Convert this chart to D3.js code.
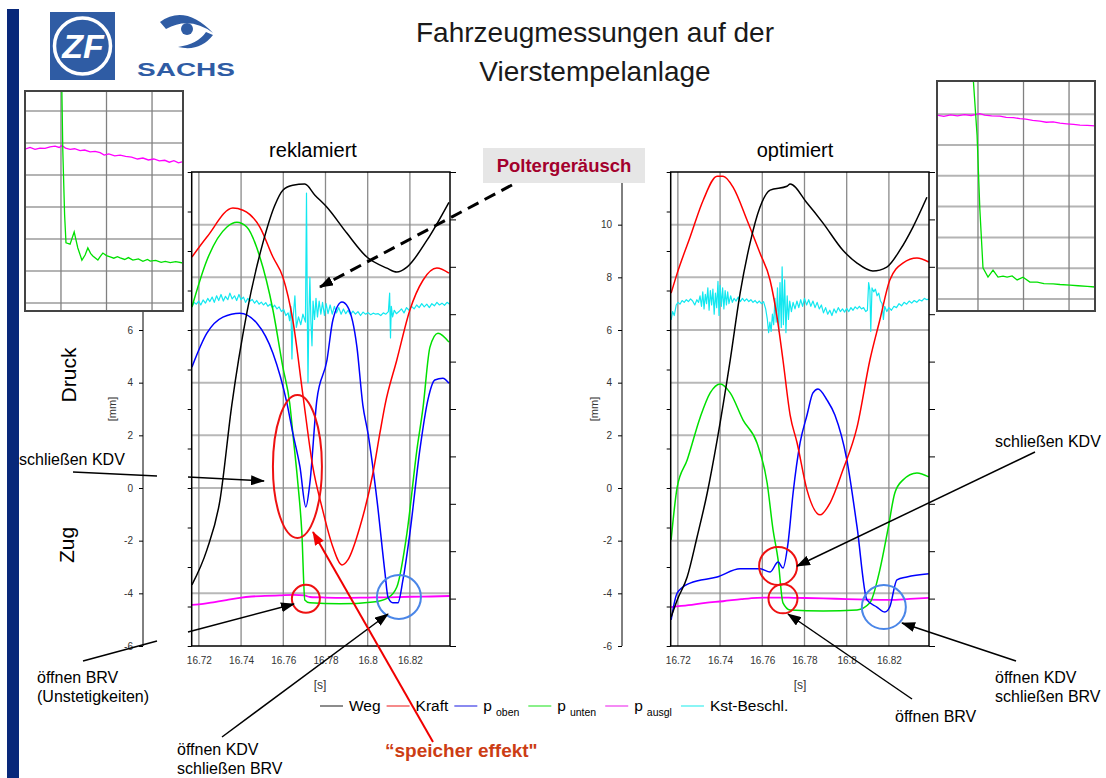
<!DOCTYPE html>
<html>
<head>
<meta charset="utf-8">
<script src="https://cdn.jsdelivr.net/npm/d3@7"></script>
<style>
  body { margin: 0; background: #fff; }
  svg { display: block; }
  text { font-family: "Liberation Sans", Arial, sans-serif; }
</style>
</head>
<body>
<div id="slide"></div>
<script>
// ---- data ----
var titleLines = ["Fahrzeugmessungen auf der", "Vierstempelanlage"];
var panelTitles = ["reklamiert", "optimiert"];
var timeTicks = [16.72, 16.74, 16.76, 16.78, 16.8, 16.82];
var timeLabels = ["16.72", "16.74", "16.76", "16.78", "16.8", "16.82"];
var mmTicks = [-6, -4, -2, 0, 2, 4, 6, 8, 10];
var gridMm = [-4, -2, 0, 2, 4, 6, 8, 10];
var legendNames = ["Weg", "Kraft", "p", "p", "p", "Kst-Beschl."];
var legendSubs = ["", "", "oben", "unten", "ausgl", ""];

// "reklamiert" panel  [time s, value]
var rekWeg = [[16.7167,-3.68],[16.7238,-2.35],[16.7300,-0.46],[16.7356,3.15],[16.7427,6.64],[16.7503,9.30],
  [16.7560,10.74],[16.7598,11.31],[16.7645,11.50],[16.7702,11.54],[16.7750,11.12],[16.7807,10.66],[16.7901,9.68],
  [16.7996,8.77],[16.8091,8.35],[16.8138,8.20],[16.8186,8.39],[16.8281,9.41],[16.8385,10.85]];
var rekKraft = [[16.7167,8.77],[16.7238,9.53],[16.7361,10.63],[16.7409,10.55],[16.7489,9.91],[16.7551,8.77],
  [16.7598,8.01],[16.7645,6.38],[16.7693,3.53],[16.7740,0.80],[16.7783,-0.72],[16.7835,-2.24],[16.7878,-2.92],
  [16.7906,-2.73],[16.7963,-1.48],[16.8025,0.57],[16.8058,2.09],[16.8082,3.15],[16.8138,4.86],[16.8200,6.76],
  [16.8262,7.89],[16.8328,8.35],[16.8385,8.16]];
var rekOben = [[16.7167,4.59],[16.7238,5.88],[16.7314,6.49],[16.7394,6.64],[16.7475,6.26],[16.7551,5.12],
  [16.7617,3.23],[16.7645,2.09],[16.7679,0.80],[16.7707,-0.72],[16.7726,0.19],[16.7759,3.34],[16.7807,4.86],
  [16.7835,6.38],[16.7878,7.06],[16.7906,6.87],[16.7949,5.35],[16.7977,3.15],[16.8001,2.09],[16.8044,-0.46],
  [16.8082,-3.23],[16.8096,-4.14],[16.8119,-4.36],[16.8143,-4.36],[16.8167,-3.49],[16.8200,-1.71],[16.8247,1.44],
  [16.8285,3.34],[16.8318,4.10],[16.8356,4.17],[16.8385,3.98]];
var rekUnten = [[16.7167,6.87],[16.7238,8.65],[16.7333,9.91],[16.7380,10.09],[16.7427,9.91],[16.7489,8.77],
  [16.7551,6.76],[16.7598,4.59],[16.7631,3.19],[16.7645,2.09],[16.7669,0.19],[16.7688,-1.71],[16.7702,-4.25],
  [16.7726,-4.36],[16.7868,-4.40],[16.8025,-4.33],[16.8096,-4.17],[16.8138,-3.76],[16.8186,-1.71],[16.8233,1.44],
  [16.8262,3.04],[16.8295,5.35],[16.8333,5.88],[16.8385,5.54]];
var rekAusgl = [[16.7167,-4.44],[16.7220,-4.40],[16.7275,-4.33],[16.7330,-4.26],[16.7394,-4.17],[16.7450,-4.12],
  [16.7513,-4.10],[16.7584,-4.08],[16.7650,-4.06],[16.7700,-4.08],[16.7726,-4.14],[16.7800,-4.16],[16.7900,-4.17],
  [16.8000,-4.16],[16.8100,-4.15],[16.8200,-4.13],[16.8300,-4.12],[16.8388,-4.10]];
var rekBeschl = [[16.7167,6.87],[16.7178,7.05],[16.7188,6.98],[16.7199,7.10],[16.7209,6.95],[16.7220,7.14],
  [16.7231,7.02],[16.7242,7.20],[16.7252,7.08],[16.7263,7.25],[16.7273,7.05],[16.7284,7.30],[16.7294,7.12],
  [16.7305,7.35],[16.7316,7.10],[16.7326,7.28],[16.7337,7.15],[16.7347,7.40],[16.7358,7.18],[16.7369,7.30],
  [16.7379,7.12],[16.7390,7.35],[16.7400,7.15],[16.7411,7.25],[16.7421,7.05],[16.7432,7.20],[16.7443,7.10],
  [16.7453,7.16],[16.7464,7.02],[16.7474,7.12],[16.7485,6.98],[16.7496,7.06],[16.7506,6.95],[16.7517,7.04],
  [16.7527,6.90],[16.7538,6.98],[16.7549,6.85],[16.7559,6.94],[16.7570,6.80],[16.7580,6.88],[16.7591,6.70],
  [16.7602,6.78],[16.7612,6.55],[16.7623,6.65],[16.7630,6.35],[16.7636,6.90],[16.7641,4.90],[16.7646,6.40],
  [16.7655,7.30],[16.7662,6.10],[16.7672,6.50],[16.7683,6.20],[16.7693,6.60],[16.7705,6.30],[16.7710,11.20],
  [16.7714,6.50],[16.7717,4.00],[16.7721,6.40],[16.7726,8.00],[16.7731,6.30],[16.7736,5.40],[16.7741,7.10],
  [16.7748,6.40],[16.7755,7.20],[16.7762,6.50],[16.7770,7.10],[16.7778,6.60],[16.7786,7.05],[16.7795,6.55],
  [16.7803,7.00],[16.7812,6.62],[16.7822,6.95],[16.7832,6.60],[16.7842,6.90],[16.7852,6.65],[16.7863,6.85],
  [16.7874,6.60],[16.7885,6.80],[16.7896,6.62],[16.7907,6.75],[16.7918,6.58],[16.7930,6.72],[16.7942,6.60],
  [16.7954,6.70],[16.7966,6.55],[16.7978,6.68],[16.7990,6.60],[16.8002,6.66],[16.8014,6.58],[16.8026,6.64],
  [16.8038,6.60],[16.8050,6.62],[16.8062,6.55],[16.8074,6.65],[16.8086,6.60],[16.8098,6.70],[16.8104,7.40],
  [16.8108,5.70],[16.8112,6.90],[16.8118,6.50],[16.8126,6.75],[16.8136,6.62],[16.8148,6.70],[16.8160,6.80],
  [16.8172,6.65],[16.8184,6.85],[16.8196,6.75],[16.8208,6.90],[16.8220,6.80],[16.8232,6.95],[16.8244,6.85],
  [16.8256,7.00],[16.8268,6.88],[16.8280,6.98],[16.8292,6.85],[16.8304,7.00],[16.8316,6.92],[16.8328,7.05],
  [16.8340,6.95],[16.8352,7.02],[16.8364,6.94],[16.8376,7.05],[16.8388,6.98]];

// "optimiert" panel
var optWeg = [[16.7168,-4.90],[16.7197,-4.25],[16.7244,-3.38],[16.7291,-1.86],[16.7339,-0.19],[16.7386,1.82],
  [16.7448,4.86],[16.7495,7.40],[16.7542,9.30],[16.7589,10.66],[16.7637,11.31],[16.7717,11.46],[16.7732,11.54],
  [16.7812,10.82],[16.7888,10.06],[16.7982,9.03],[16.8049,8.54],[16.8124,8.24],[16.8190,8.39],[16.8252,9.03],
  [16.8314,9.91],[16.8380,11.04]];
var optKraft = [[16.7168,7.40],[16.7197,8.16],[16.7258,9.53],[16.7320,10.93],[16.7386,11.84],[16.7414,11.84],
  [16.7462,11.42],[16.7528,10.17],[16.7589,8.92],[16.7637,7.89],[16.7670,6.49],[16.7698,4.86],[16.7732,2.77],
  [16.7765,1.71],[16.7812,-0.08],[16.7874,-1.02],[16.7921,-0.57],[16.7982,0.68],[16.8049,2.31],[16.8110,4.86],
  [16.8157,6.38],[16.8204,7.89],[16.8266,8.54],[16.8333,8.73],[16.8389,8.58]];
var optOben = [[16.7168,-5.01],[16.7197,-3.98],[16.7258,-3.61],[16.7386,-3.38],[16.7495,-3.07],[16.7589,-3.07],
  [16.7637,-3.19],[16.7675,-2.81],[16.7698,-3.04],[16.7722,-2.09],[16.7746,-0.19],[16.7779,1.71],[16.7812,2.77],
  [16.7840,3.61],[16.7864,3.76],[16.7907,3.34],[16.7944,2.77],[16.8001,1.06],[16.8049,-1.48],[16.8096,-4.25],
  [16.8143,-4.52],[16.8181,-4.71],[16.8204,-4.52],[16.8238,-3.49],[16.8285,-3.38],[16.8389,-3.26]];
var optUnten = [[16.7168,-1.97],[16.7197,0.04],[16.7244,1.06],[16.7306,2.69],[16.7353,3.61],[16.7401,3.95],
  [16.7448,3.61],[16.7509,2.58],[16.7575,1.71],[16.7623,0.19],[16.7651,-1.59],[16.7675,-2.73],[16.7698,-4.36],
  [16.7732,-4.63],[16.7888,-4.67],[16.8049,-4.63],[16.8110,-4.36],[16.8157,-3.11],[16.8195,-1.59],[16.8228,-0.19],
  [16.8266,0.30],[16.8333,0.57],[16.8389,0.42]];
var optAusgl = [[16.7168,-4.52],[16.7250,-4.45],[16.7330,-4.36],[16.7414,-4.30],[16.7500,-4.22],[16.7575,-4.17],
  [16.7650,-4.16],[16.7750,-4.17],[16.7888,-4.19],[16.8000,-4.22],[16.8100,-4.24],[16.8204,-4.25],[16.8300,-4.21],
  [16.8389,-4.17]];
var optBeschl = [[16.7168,6.38],[16.7175,6.70],[16.7183,6.55],[16.7192,6.95],[16.7201,7.05],[16.7210,6.98],
  [16.7220,7.12],[16.7230,7.05],[16.7240,7.15],[16.7250,7.08],[16.7260,7.18],[16.7270,7.10],[16.7280,6.95],
  [16.7290,7.15],[16.7298,7.05],[16.7305,7.30],[16.7312,6.90],[16.7318,7.45],[16.7324,6.80],[16.7330,7.35],
  [16.7336,7.00],[16.7342,7.60],[16.7348,6.75],[16.7354,7.50],[16.7360,6.95],[16.7366,7.55],[16.7372,6.60],
  [16.7378,7.40],[16.7384,6.85],[16.7390,7.85],[16.7395,6.55],[16.7400,7.70],[16.7406,6.90],[16.7412,7.60],
  [16.7418,6.80],[16.7424,7.50],[16.7430,6.95],[16.7436,7.45],[16.7442,7.00],[16.7450,7.30],[16.7458,7.05],
  [16.7466,7.20],[16.7476,7.10],[16.7486,7.25],[16.7496,7.08],[16.7506,7.20],[16.7516,7.10],[16.7526,7.18],
  [16.7536,7.08],[16.7546,7.15],[16.7556,7.05],[16.7566,7.12],[16.7576,7.02],[16.7586,7.10],[16.7596,7.00],
  [16.7606,7.08],[16.7616,6.80],[16.7624,6.40],[16.7630,5.90],[16.7636,6.30],[16.7642,5.95],[16.7648,6.60],
  [16.7654,6.20],[16.7660,7.20],[16.7666,6.30],[16.7672,7.60],[16.7678,5.95],[16.7684,7.80],[16.7690,6.10],
  [16.7694,8.40],[16.7700,6.20],[16.7706,7.90],[16.7712,5.90],[16.7718,7.30],[16.7724,6.40],[16.7730,7.10],
  [16.7738,6.70],[16.7746,7.05],[16.7755,6.80],[16.7764,7.10],[16.7773,6.85],[16.7782,7.15],[16.7791,6.90],
  [16.7800,7.20],[16.7810,6.95],[16.7820,7.15],[16.7830,6.90],[16.7840,7.10],[16.7850,6.85],[16.7860,7.05],
  [16.7870,6.80],[16.7880,6.95],[16.7890,6.65],[16.7900,6.85],[16.7910,6.60],[16.7920,6.75],[16.7930,6.55],
  [16.7940,6.80],[16.7950,6.65],[16.7960,6.85],[16.7970,6.70],[16.7980,6.80],[16.7990,6.68],[16.8000,6.82],
  [16.8010,6.70],[16.8020,6.85],[16.8030,6.75],[16.8040,6.88],[16.8050,6.80],[16.8060,6.90],[16.8070,6.80],
  [16.8080,6.85],[16.8090,6.70],[16.8098,6.75],[16.8104,7.80],[16.8110,7.50],[16.8114,5.95],[16.8120,7.60],
  [16.8128,7.45],[16.8136,7.55],[16.8144,7.30],[16.8152,7.40],[16.8160,7.10],[16.8168,7.00],[16.8174,6.40],
  [16.8180,6.90],[16.8190,6.70],[16.8200,6.85],[16.8212,6.75],[16.8224,6.90],[16.8236,6.85],[16.8248,7.00],
  [16.8260,6.92],[16.8272,7.05],[16.8284,6.98],[16.8296,7.10],[16.8308,7.02],[16.8320,7.12],[16.8332,7.05],
  [16.8344,7.15],[16.8356,7.10],[16.8368,7.20],[16.8380,7.15],[16.8389,7.18]];

// zoomed insets (arbitrary units)
var leftInsetAusgl = [[0.21,4.81],[0.32,4.86],[0.43,4.80],[0.54,4.84],[0.65,4.83],[0.76,4.88],[0.87,4.90],
  [0.96,4.86],[1.02,4.92],[1.10,4.84],[1.20,4.80],[1.30,4.82],[1.42,4.76],[1.52,4.78],[1.64,4.72],[1.75,4.74],
  [1.86,4.70],[1.95,4.62],[2.05,4.66],[2.18,4.60],[2.30,4.62],[2.42,4.58],[2.55,4.56],[2.68,4.50],[2.80,4.53],
  [2.92,4.47],[3.04,4.50],[3.16,4.44],[3.28,4.46],[3.38,4.40],[3.48,4.45],[3.58,4.38],[3.68,4.42]];
var leftInsetUnten = [[1.01,7.50],[1.04,4.78],[1.08,2.75],[1.11,1.88],[1.20,1.84],[1.29,2.22],[1.37,1.72],
  [1.46,1.34],[1.53,1.50],[1.59,1.72],[1.65,1.55],[1.70,1.47],[1.81,1.34],[1.86,1.45],[1.92,1.56],[2.00,1.48],
  [2.08,1.44],[2.16,1.40],[2.24,1.45],[2.30,1.41],[2.40,1.36],[2.48,1.42],[2.58,1.34],[2.70,1.38],[2.80,1.30],
  [2.90,1.36],[2.96,1.31],[3.08,1.33],[3.20,1.27],[3.29,1.30],[3.40,1.26],[3.52,1.29],[3.68,1.25]];
var rightInsetAusgl = [[0.10,5.97],[0.25,5.93],[0.40,5.98],[0.55,5.95],[0.70,5.99],[0.85,5.96],[1.04,6.02],
  [1.15,5.97],[1.30,5.95],[1.48,5.94],[1.62,5.90],[1.78,5.89],[1.92,5.86],[2.05,5.84],[2.20,5.80],[2.36,5.78],
  [2.50,5.74],[2.65,5.75],[2.80,5.71],[2.95,5.69],[3.10,5.67],[3.24,5.65],[3.40,5.64],[3.57,5.62]];
var rightInsetUnten = [[0.88,7.50],[0.98,5.32],[1.04,2.95],[1.11,1.01],[1.22,0.71],[1.33,0.94],[1.44,0.71],
  [1.55,0.74],[1.64,0.71],[1.75,0.75],[1.86,0.62],[1.99,0.71],[2.14,0.55],[2.30,0.55],[2.45,0.50],[2.65,0.49],
  [2.80,0.47],[3.02,0.45],[3.20,0.43],[3.40,0.41],[3.57,0.39]];

// marked spots [time, value]
var rekEllipse = [16.7667, 0.82];
var rekRedCircle = [16.7707, -4.21];
var rekBlueCircle = [16.8148, -4.14];
var optRedCircles = [[16.7675, -2.96], [16.7698, -4.21]];
var optBlueCircle = [16.8176, -4.52];

// ---- layout ----
var W = 1106, H = 778;
var panelTop = 172, panelBottom = 646;
var tDomain = [16.7166, 16.839];
var colors = {weg: "#000000", kraft: "#ff0000", oben: "#0000ff", unten: "#00e000", ausgl: "#ff00ff", beschl: "#12e8f0"};
var legendColors = ["#8c8c8c", "#f58a8a", "#8a8af0", "#8af08a", "#f58af5", "#8af5f5"];

var svg = d3.select("#slide").append("svg").attr("width", W).attr("height", H);
var defs = svg.append("defs");

function addArrow(id, color) {
    defs.append("marker")
        .attr("id", id)
        .attr("viewBox", "0 0 14 10")
        .attr("refX", 13).attr("refY", 5)
        .attr("markerWidth", 14).attr("markerHeight", 10)
        .attr("markerUnits", "userSpaceOnUse")
        .attr("orient", "auto")
      .append("path")
        .attr("d", "M0,0 L14,5 L0,10 Z")
        .attr("fill", color);
}
addArrow("arrBlack", "#000");
addArrow("arrRed", "#f00000");

// navy side bar
svg.append("rect").attr("x", 7).attr("y", 9).attr("width", 12).attr("height", H - 9).attr("fill", "#08287a");

// logos
svg.append("rect").attr("x", 50).attr("y", 12).attr("width", 65).attr("height", 68).attr("fill", "#2f5ca4");
svg.append("circle").attr("cx", 82.5).attr("cy", 46).attr("r", 28).attr("fill", "none")
    .attr("stroke", "#fff").attr("stroke-width", 3.5);
svg.append("text").attr("x", 83).attr("y", 58).attr("text-anchor", "middle")
    .style("font-size", "34px").style("font-weight", "bold").style("font-style", "italic")
    .attr("fill", "#fff").text("ZF");
svg.append("path").attr("d", "M160,22 Q185,4 213,33 Q190,16 166,29 Z").attr("fill", "#2f5ca4");
svg.append("path").attr("d", "M213,35 Q200,52 178,47 Q198,44 206,32 Z").attr("fill", "#2f5ca4");
svg.append("circle").attr("cx", 187).attr("cy", 29).attr("r", 6).attr("fill", "#2f5ca4");
svg.append("text").attr("x", 137).attr("y", 76).attr("textLength", 98).attr("lengthAdjust", "spacingAndGlyphs")
    .style("font-size", "18px").style("font-weight", "bold").attr("fill", "#2f5ca4").text("SACHS");

// title
titleLines.forEach(function(t, i) {
    svg.append("text").attr("x", 595).attr("y", 42 + i * 39).attr("text-anchor", "middle")
        .style("font-size", "28px").attr("fill", "#1a1a1a").text(t);
});

function drawPanel(id, left, right, axisX, axisTop, series) {
    var x = d3.scaleLinear().domain(tDomain).range([left, right]);
    var y = d3.scaleLinear().domain([-6, 12]).range([panelBottom, panelTop]);
    var g = svg.append("g");

    // free standing mm axis
    var ax = g.append("g")
        .attr("transform", "translate(" + axisX + ",0)")
        .call(d3.axisLeft(y).tickValues(mmTicks).tickSize(4).tickPadding(6)
            .tickFormat(function(d) { return String(d); }));
    ax.select(".domain").remove();
    ax.selectAll("text").style("font-size", "10px").attr("fill", "#333");
    g.append("line").attr("x1", axisX).attr("x2", axisX).attr("y1", panelBottom).attr("y2", axisTop)
        .attr("stroke", "#000");

    // grid
    g.append("g").selectAll("line").data(gridMm).join("line")
        .attr("x1", left).attr("x2", right)
        .attr("y1", function(d) { return y(d); }).attr("y2", function(d) { return y(d); })
        .attr("stroke", "#b8b8b8").attr("stroke-width", 2);
    g.append("g").selectAll("line").data(timeTicks).join("line")
        .attr("x1", function(d) { return x(d); }).attr("x2", function(d) { return x(d); })
        .attr("y1", panelTop).attr("y2", panelBottom)
        .attr("stroke", "#8a8a8a").attr("stroke-width", 1.3);

    // unlabelled outer ticks of the other channels
    var sLeft = d3.scaleLinear().domain([0, 12]).range([panelBottom, panelTop]);
    g.append("g").attr("transform", "translate(" + left + ",0)")
        .call(d3.axisLeft(sLeft).tickValues(d3.range(0, 13)).tickSize(4).tickFormat(""))
        .select(".domain").remove();
    var sRight = d3.scaleLinear().domain([0, 10]).range([panelBottom, panelTop]);
    g.append("g").attr("transform", "translate(" + right + ",0)")
        .call(d3.axisRight(sRight).tickValues(d3.range(0, 11)).tickSize(6).tickFormat(""))
        .select(".domain").remove();

    // time labels
    var bx = g.append("g").attr("transform", "translate(0," + panelBottom + ")")
        .call(d3.axisBottom(x).tickValues(timeTicks)
            .tickFormat(function(d, i) { return timeLabels[i]; })
            .tickSize(0).tickPadding(11));
    bx.select(".domain").remove();
    bx.selectAll("text").style("font-size", "10px").attr("fill", "#333");

    defs.append("clipPath").attr("id", id)
      .append("rect").attr("x", left).attr("y", panelTop)
        .attr("width", right - left).attr("height", panelBottom - panelTop);

    var smooth = d3.line().curve(d3.curveMonotoneX)
        .x(function(d) { return x(d[0]); })
        .y(function(d) { return y(d[1]); });
    var jagged = d3.line()
        .x(function(d) { return x(d[0]); })
        .y(function(d) { return y(d[1]); });

    g.append("g").attr("clip-path", "url(#" + id + ")")
        .selectAll("path").data(series).join("path")
        .attr("fill", "none")
        .attr("stroke", function(d) { return d.color; })
        .attr("stroke-width", function(d) { return d.width; })
        .attr("stroke-linejoin", "round")
        .attr("d", function(d) { return d.noisy ? jagged(d.values) : smooth(d.values); });

    g.append("rect").attr("x", left).attr("y", panelTop)
        .attr("width", right - left).attr("height", panelBottom - panelTop)
        .attr("fill", "none").attr("stroke", "#000").attr("stroke-width", 1.5);

    return {x: x, y: y};
}

function seriesOf(beschl, ausgl, unten, oben, kraft, weg) {
    return [
        {color: colors.beschl, width: 1.2, values: beschl, noisy: true},
        {color: colors.ausgl, width: 1.8, values: ausgl},
        {color: colors.unten, width: 1.5, values: unten},
        {color: colors.oben, width: 1.5, values: oben},
        {color: colors.kraft, width: 1.5, values: kraft},
        {color: colors.weg, width: 1.5, values: weg}
    ];
}

var rek = drawPanel("clipRek", 191.7, 450, 143, 300,
    seriesOf(rekBeschl, rekAusgl, rekUnten, rekOben, rekKraft, rekWeg));
var opt = drawPanel("clipOpt", 670.7, 929, 622, 183,
    seriesOf(optBeschl, optAusgl, optUnten, optOben, optKraft, optWeg));

svg.append("text").attr("x", 313).attr("y", 157).attr("text-anchor", "middle")
    .style("font-size", "20px").text(panelTitles[0]);
svg.append("text").attr("x", 795).attr("y", 157).attr("text-anchor", "middle")
    .style("font-size", "20px").text(panelTitles[1]);
svg.append("text").attr("x", 320).attr("y", 689).attr("text-anchor", "middle").style("font-size", "12px").attr("fill", "#333").text("[s]");
svg.append("text").attr("x", 800).attr("y", 689).attr("text-anchor", "middle").style("font-size", "12px").attr("fill", "#333").text("[s]");
svg.append("text").attr("transform", "translate(116,409) rotate(-90)").attr("text-anchor", "middle")
    .style("font-size", "11px").attr("fill", "#333").text("[mm]");
svg.append("text").attr("transform", "translate(598,409) rotate(-90)").attr("text-anchor", "middle")
    .style("font-size", "11px").attr("fill", "#333").text("[mm]");
svg.append("text").attr("transform", "translate(76,375) rotate(-90)").attr("text-anchor", "middle")
    .style("font-size", "21px").text("Druck");
svg.append("text").attr("transform", "translate(74,545) rotate(-90)").attr("text-anchor", "middle")
    .style("font-size", "21px").text("Zug");

// zoomed insets
function drawInset(id, x0, x1, y0, y1, xDom, yDom, ausgl, unten) {
    var x = d3.scaleLinear().domain(xDom).range([x0, x1]);
    var y = d3.scaleLinear().domain(yDom).range([y1, y0]);
    var g = svg.append("g");
    g.append("rect").attr("x", x0).attr("y", y0).attr("width", x1 - x0).attr("height", y1 - y0).attr("fill", "#fff");
    g.append("g").selectAll("line").data(d3.range(0, 7)).join("line")
        .attr("x1", x0).attr("x2", x1)
        .attr("y1", function(d) { return y(d); }).attr("y2", function(d) { return y(d); })
        .attr("stroke", "#b4b4b4").attr("stroke-width", 2);
    g.append("g").selectAll("line").data([1, 2, 3]).join("line")
        .attr("x1", function(d) { return x(d); }).attr("x2", function(d) { return x(d); })
        .attr("y1", y0).attr("y2", y1)
        .attr("stroke", "#808080").attr("stroke-width", 1.3);
    defs.append("clipPath").attr("id", id)
      .append("rect").attr("x", x0).attr("y", y0).attr("width", x1 - x0).attr("height", y1 - y0);
    var line = d3.line().x(function(d) { return x(d[0]); }).y(function(d) { return y(d[1]); });
    var c = g.append("g").attr("clip-path", "url(#" + id + ")");
    c.append("path").attr("d", line(ausgl)).attr("fill", "none").attr("stroke", colors.ausgl).attr("stroke-width", 1.3);
    c.append("path").attr("d", line(unten)).attr("fill", "none").attr("stroke", colors.unten).attr("stroke-width", 1.3);
    g.append("rect").attr("x", x0).attr("y", y0).attr("width", x1 - x0).attr("height", y1 - y0)
        .attr("fill", "none").attr("stroke", "#444").attr("stroke-width", 2);
}
drawInset("clipInL", 25, 183, 91, 311, [0.21, 3.68], [-0.25, 6.625], leftInsetAusgl, leftInsetUnten);
drawInset("clipInR", 937, 1095, 81, 311, [0.10, 3.57], [-0.39, 7.08], rightInsetAusgl, rightInsetUnten);

// highlight rings
function ring(px, py, rx, ry, color) {
    svg.append("ellipse").attr("cx", px).attr("cy", py).attr("rx", rx).attr("ry", ry)
        .attr("fill", "none").attr("stroke", color).attr("stroke-width", 2);
}
var red = "#ee1111", blue = "#4a86e8";
ring(rek.x(rekEllipse[0]), rek.y(rekEllipse[1]), 24.5, 71.5, red);
ring(rek.x(rekRedCircle[0]), rek.y(rekRedCircle[1]), 14, 14, red);
ring(rek.x(rekBlueCircle[0]), rek.y(rekBlueCircle[1]), 22, 22, blue);
ring(opt.x(optRedCircles[0][0]), opt.y(optRedCircles[0][1]), 19, 19, red);
ring(opt.x(optRedCircles[1][0]), opt.y(optRedCircles[1][1]), 14.5, 14.5, red);
ring(opt.x(optBlueCircle[0]), opt.y(optBlueCircle[1]), 22, 22, blue);

// callouts
function callout(x1, y1, x2, y2, color, marker, dash, width) {
    var l = svg.append("line").attr("x1", x1).attr("y1", y1).attr("x2", x2).attr("y2", y2)
        .attr("stroke", color).attr("stroke-width", width || 1.5);
    if (marker) l.attr("marker-end", "url(#" + marker + ")");
    if (dash) l.attr("stroke-dasharray", dash);
}
callout(73, 472, 157, 476, "#000");
callout(188, 477, 264, 481, "#000", "arrBlack");
callout(83, 661, 157, 641, "#000");
callout(188, 632, 294, 604, "#000", "arrBlack");
callout(222, 737, 388, 614, "#000", "arrBlack");
callout(433, 742, 313, 532, "#f00000", "arrRed", null, 2);
callout(512, 185, 320, 287, "#000", "arrBlack", "12,7", 3);
callout(1035, 452, 797, 566, "#000", "arrBlack");
callout(912, 699, 788, 614, "#000", "arrBlack");
callout(1016, 661, 902, 623, "#000", "arrBlack");

function label(x, y, lines, size, color, weight) {
    var t = svg.append("text").attr("x", x).attr("y", y).style("font-size", size + "px")
        .attr("fill", color || "#000").style("font-weight", weight || "normal");
    lines.forEach(function(s, i) {
        t.append("tspan").attr("x", x).attr("dy", i ? "1.2em" : 0).text(s);
    });
}
label(19, 465, ["schließen KDV"], 16);
label(37, 683, ["öffnen BRV", "(Unstetigkeiten)"], 16);
label(177, 755, ["öffnen KDV", "schließen BRV"], 16);
label(995, 447, ["schließen KDV"], 16);
label(895, 722, ["öffnen BRV"], 16);
label(995, 683, ["öffnen KDV", "schließen BRV"], 16);
label(385, 757, ["\u201Cspeicher effekt\""], 19, "#cc3d14", "bold");

svg.append("rect").attr("x", 483).attr("y", 148).attr("width", 162).attr("height", 35).attr("fill", "#e6e6e6");
svg.append("text").attr("x", 564).attr("y", 172).attr("text-anchor", "middle")
    .style("font-size", "18.5px").style("font-weight", "bold").attr("fill", "#a3002c").text("Poltergeräusch");

// legend
var lx = 320;
legendNames.forEach(function(name, i) {
    svg.append("line").attr("x1", lx).attr("x2", lx + 23).attr("y1", 706).attr("y2", 706)
        .attr("stroke", legendColors[i]).attr("stroke-width", 2);
    var t = svg.append("text").attr("x", lx + 29).attr("y", 711).style("font-size", "15.5px").text(name);
    lx += 29 + t.node().getComputedTextLength();
    if (legendSubs[i]) {
        var s = svg.append("text").attr("x", lx + 4).attr("y", 716).style("font-size", "10.5px").text(legendSubs[i]);
        lx += 4 + s.node().getComputedTextLength() + 3;
    }
    lx += 6;
});
</script>
</body>
</html>
